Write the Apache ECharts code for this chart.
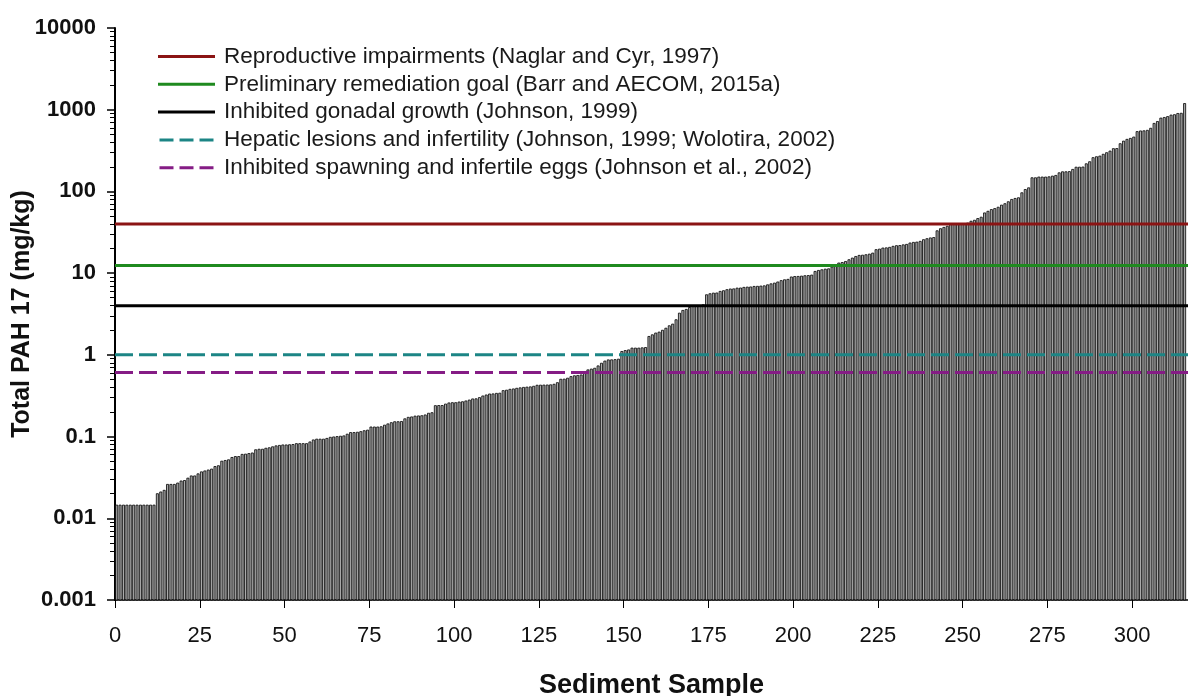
<!DOCTYPE html>
<html>
<head>
<meta charset="utf-8">
<script src="https://cdn.jsdelivr.net/npm/echarts@6/dist/echarts.min.js"></script>
<style>
html,body{margin:0;padding:0;background:#fff;}
#chart{width:1188px;height:696px;}
</style>
</head>
<body>
<div id="chart"></div>
<script>
// ---- data ----
const pahValues = [
0.0145,0.0145,0.0145,0.0145,0.0145,0.0145,0.0145,0.0145,0.0145,0.0145,0.0145,0.0145,
0.020,0.021,0.022,0.026,0.026,0.026,0.027,0.0286,0.029,0.031,0.033,0.033,0.035,0.037,0.038,0.039,0.040,0.043,
0.044,0.050,0.051,0.052,0.0555,0.057,0.057,0.0606,0.061,0.062,0.063,0.069,0.070,0.070,0.072,0.073,0.075,0.077,
0.078,0.079,0.079,0.0795,0.080,0.082,0.082,0.082,0.082,0.086,0.091,0.093,0.093,0.093,0.095,0.098,0.099,0.100,
0.101,0.102,0.107,0.112,0.112,0.113,0.115,0.118,0.12,0.131,0.131,0.131,0.132,0.138,
0.143,0.148,0.152,0.152,0.153,0.165,0.172,0.174,0.178,0.179,0.18,0.184,0.193,0.196,0.239,0.24,0.24,0.25,0.258,
0.26,0.26,0.265,0.267,0.273,0.28,0.289,0.29,0.30,0.314,0.323,0.332,0.333,0.338,0.34,0.365,0.37,0.379,0.383,0.39,
0.395,0.40,0.403,0.406,0.413,0.425,0.426,0.427,0.428,0.43,0.437,0.457,0.503,0.505,0.518,0.542,0.555,0.56,0.568,
0.624,0.655,0.67,0.686,0.733,0.79,0.84,0.868,0.87,0.875,0.886,1.10,1.13,1.15,1.21,1.21,1.21,1.22,1.23,1.68,1.76,
1.85,1.90,2.0,2.12,2.27,2.38,2.69,3.24,3.5,3.6,3.8,3.9,3.95,4.0,4.1,
5.44,5.6,5.7,5.72,5.98,6.1,6.28,6.4,6.42,6.56,6.58,6.7,6.75,6.78,6.88,6.9,6.95,7.0,7.2,7.4,7.56,7.8,8.1,8.3,8.4,
8.98,9.1,9.12,9.2,9.3,9.35,9.47,10.5,10.8,11.0,11.2,11.3,11.9,12.3,13.3,13.5,13.9,14.6,15.3,16.0,16.5,16.6,16.8,
17.1,17.6,19.4,19.7,20.3,20.4,20.7,21.3,21.7,21.8,22.2,22.5,23.4,23.8,
24.0,24.5,25.7,26.4,27.0,27.3,33.0,35.0,36.3,37.5,39.3,39.4,40.0,40.1,40.5,41.0,43.2,44.4,46.6,48.4,54.6,57.2,
60.0,61.7,64.1,68.0,70.8,74.8,79.8,82.1,83.7,96.3,105.6,110.7,147,147,150,150,150,151,154,157,169,174,174,175,
186,198,198,199,218,231,259,266,271,285,298,312,334,335,384,413,434,446,463,540,550,552,560,593,680,718,790,
804,824,860,870,900,905,1190
];
const thresholdNames = [
  'Reproductive impairments (Naglar and Cyr, 1997)',
  'Preliminary remediation goal (Barr and AECOM, 2015a)',
  'Inhibited gonadal growth (Johnson, 1999)',
  'Hepatic lesions and infertility (Johnson, 1999; Wolotira, 2002)',
  'Inhibited spawning and infertile eggs (Johnson et al., 2002)'
];
const thresholdValues = [40, 12.4, 4, 1, 0.61];
const xTickValues = [0,25,50,75,100,125,150,175,200,225,250,275,300];
const yTickLabels = ['0.001','0.01','0.1','1','10','100','1000','10000'];
const yMin = 0.001, yMax = 10000, xMax = 316.5;

// ---- styles ----
const SOLID_ICON = 'path://M0,0h57v3h-57z';
const DASH_ICON = 'path://M0,0h14v3h-14zM20,0h14v3h-14zM40,0h14v3h-14z';
const thresholdStyles = [
  {color:'#8b1414', type:'solid', icon: SOLID_ICON},
  {color:'#1f8a1f', type:'solid', icon: SOLID_ICON},
  {color:'#000000', type:'solid', icon: SOLID_ICON},
  {color:'#1c8585', type:[18,6], icon: DASH_ICON},
  {color:'#851c85', type:[18,6], icon: DASH_ICON}
];
const FONT = 'Liberation Sans, Arial, sans-serif';

const minorLog = [];
for (let n = -3; n < 4; n++) for (let k = 2; k <= 9; k++) minorLog.push(n + Math.log10(k));

const barData = pahValues.map((v, i) => [i + 0.5, v]);

const series = [{
  type: 'custom',
  data: barData,
  silent: true,
  z: 2,
  renderItem: function (params, api) {
    const x = api.value(0), v = api.value(1);
    const top = api.coord([x, v]);
    const base = api.coord([x, yMin]);
    const w = api.size([1, 1])[0] * 0.62;
    return {
      type: 'rect',
      shape: {x: top[0] - w / 2, y: top[1], width: w, height: base[1] - top[1]},
      style: {fill: '#ababab', stroke: '#000', lineWidth: 0.8}
    };
  }
}];
thresholdValues.forEach((v, i) => {
  series.push({
    name: thresholdNames[i],
    type: 'line',
    data: [[0, v], [xMax, v]],
    symbol: 'none',
    lineStyle: {color: thresholdStyles[i].color, width: 3, type: thresholdStyles[i].type},
    itemStyle: {color: thresholdStyles[i].color},
    z: 5
  });
});

const chart = echarts.init(document.getElementById('chart'), null, {renderer: 'canvas'});
chart.setOption({
  animation: false,
  backgroundColor: '#fff',
  grid: {left: 115, right: 0, top: 28, bottom: 96, containLabel: false, outerBoundsMode: 'none'},
  legend: {
    orient: 'vertical', left: 158, top: 45, padding: 0,
    itemWidth: 57, itemHeight: 3, itemGap: 4.8,
    data: thresholdNames.map((n, i) => ({name: n, icon: thresholdStyles[i].icon})),
    textStyle: {fontFamily: FONT, fontSize: 22.5, color: '#1a1a1a', padding: [0, 0, 0, 4]}
  },
  xAxis: {
    type: 'value', min: 0, max: xMax,
    name: 'Sediment Sample', nameLocation: 'middle', nameGap: 72, nameMoveOverlap: false,
    nameTextStyle: {fontFamily: FONT, fontSize: 27, fontWeight: 'bold', color: '#111'},
    axisLine: {onZero: false, lineStyle: {color: '#000', width: 1.5}},
    axisTick: {show: true, length: 8, customValues: xTickValues, lineStyle: {color: '#000'}},
    axisLabel: {customValues: xTickValues, margin: 25, fontFamily: FONT, fontSize: 22, color: '#111'},
    splitLine: {show: false}
  },
  yAxis: [{
    type: 'log', logBase: 10, min: yMin, max: yMax,
    name: 'Total PAH 17 (mg/kg)', nameLocation: 'middle', nameGap: 80, nameMoveOverlap: false,
    nameTextStyle: {fontFamily: FONT, fontSize: 25, fontWeight: 'bold', color: '#111'},
    axisLine: {show: true, onZero: false, lineStyle: {color: '#000', width: 2}},
    axisTick: {show: true, length: 8, lineStyle: {color: '#000', width: 1.5}},
    axisLabel: {
      margin: 19, fontFamily: FONT, fontSize: 22, fontWeight: 'bold', color: '#111',
      formatter: (v) => yTickLabels[Math.round(Math.log10(v)) + 3]
    },
    splitLine: {show: false}
  }, {
    type: 'value', min: -3, max: 4, position: 'left',
    axisLine: {show: false},
    axisTick: {show: true, length: 5, customValues: minorLog, lineStyle: {color: '#000', width: 1}},
    axisLabel: {show: false},
    splitLine: {show: false}
  }],
  series: series
});
</script>
</body>
</html>
